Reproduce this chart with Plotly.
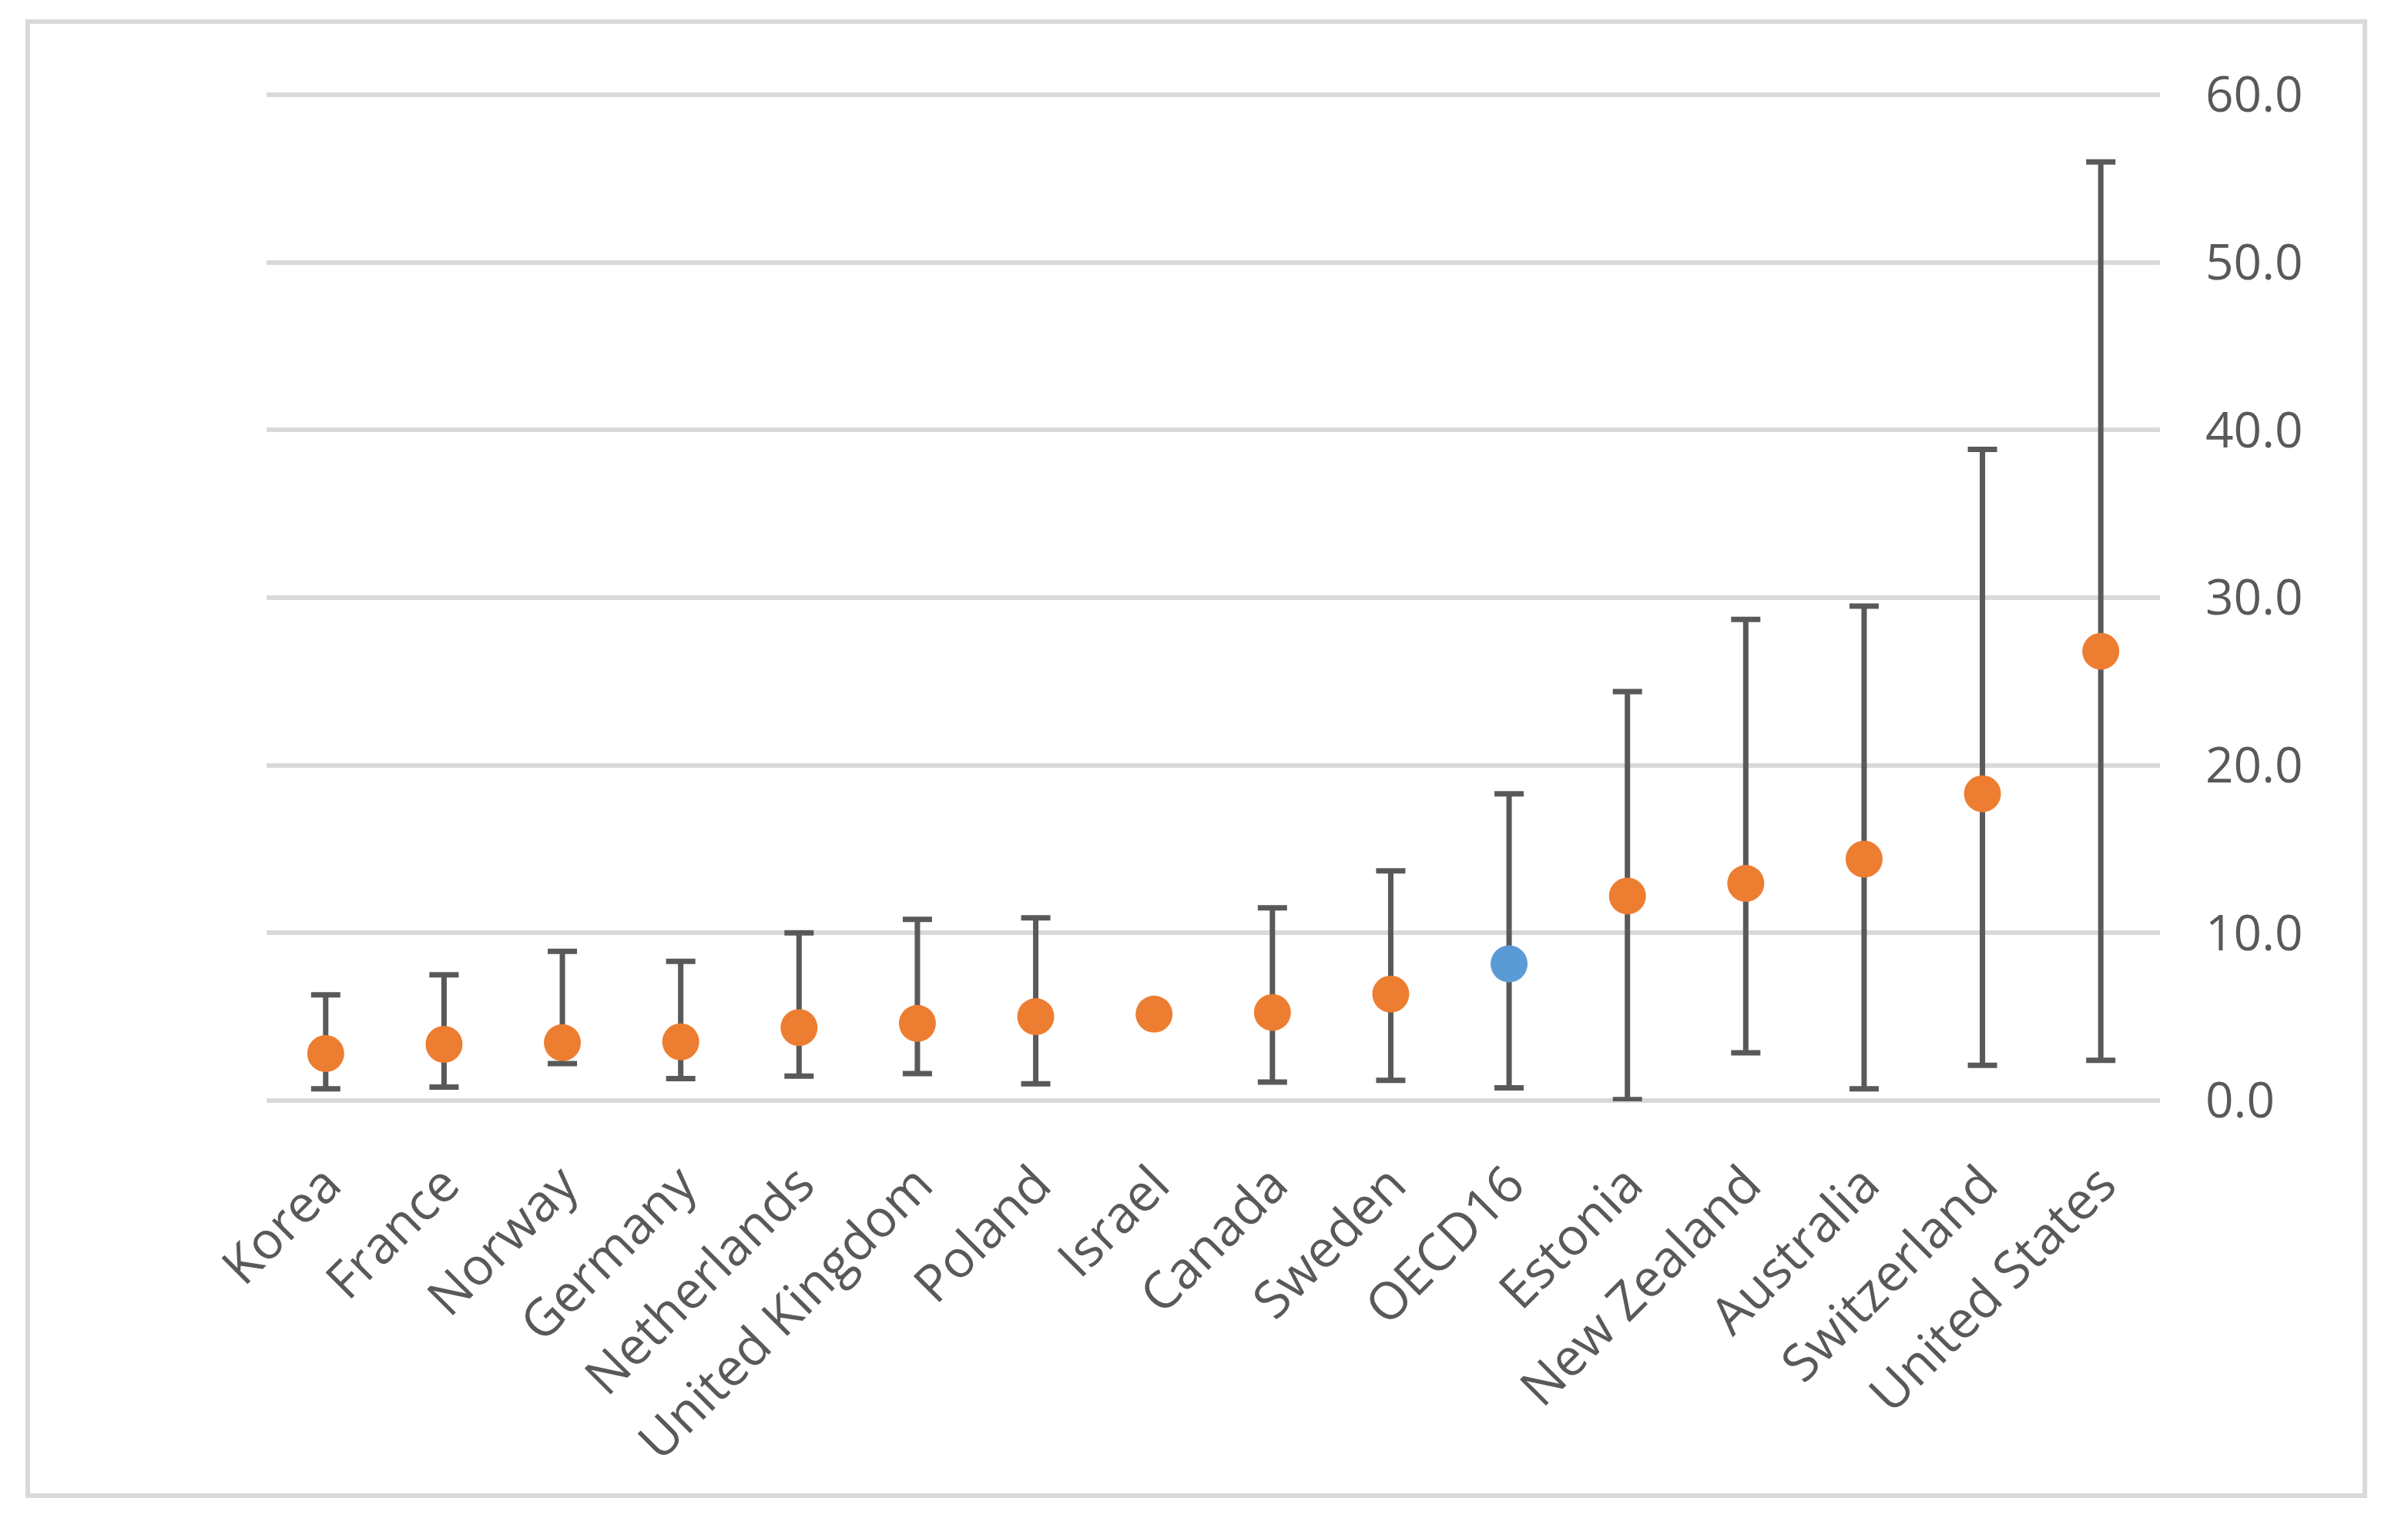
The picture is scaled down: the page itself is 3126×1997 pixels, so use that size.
import plotly.graph_objects as go

categories = ["Korea", "France", "Norway", "Germany", "Netherlands", "United Kingdom",
              "Poland", "Israel", "Canada", "Sweden", "OECD16", "Estonia",
              "New Zealand", "Australia", "Switzerland", "United States"]
values = [2.8, 3.35, 3.45, 3.5, 4.35, 4.6, 5.0, 5.15, 5.25, 6.35, 8.15, 12.2,
          12.95, 14.4, 18.3, 26.8]
upper = [6.3, 7.5, 8.9, 8.3, 10.0, 10.8, 10.9, None, 11.5, 13.7, 18.3, 24.4,
         28.7, 29.5, 38.85, 56.0]
lower = [0.7, 0.8, 2.2, 1.3, 1.45, 1.6, 1.0, None, 1.1, 1.2, 0.75, 0.05,
         2.85, 0.7, 2.1, 2.4]
highlight = "OECD16"
y_ticks = [0, 10, 20, 30, 40, 50, 60]

ORANGE = "#ED7D31"
BLUE = "#5B9BD5"
DARK = "#595959"
GRID = "#D9D9D9"

plus = [(u - v) if u is not None else None for u, v in zip(upper, values)]
minus = [(v - l) if l is not None else None for l, v in zip(lower, values)]
colors = [BLUE if c == highlight else ORANGE for c in categories]

fig = go.Figure()
fig.add_trace(go.Scatter(
    x=categories, y=values, mode="markers",
    marker=dict(size=48, color=colors, line=dict(width=0)),
    error_y=dict(type="data", symmetric=False, array=plus, arrayminus=minus,
                 color=DARK, thickness=7, width=19),
    showlegend=False, hoverinfo="x+y",
))

L, R, T, B = 346, 322, 122, 567
W, H = 3126, 1997
pw, ph = W - L - R, H - T - B

fig.update_layout(
    width=W, height=H,
    margin=dict(l=L, r=R, t=T, b=B, pad=0),
    paper_bgcolor="white", plot_bgcolor="white",
    font=dict(family="Open Sans", size=63, color=DARK),
    xaxis=dict(type="category", range=[-0.5, len(categories) - 0.5],
               tickangle=-45, showgrid=False, zeroline=False, showline=False,
               ticks="", ticklabelstandoff=54,
               tickfont=dict(family="Open Sans", size=67, color=DARK)),
    yaxis=dict(side="right", range=[-0.05, 60.05], tickvals=y_ticks,
               tickformat=".1f", showgrid=True, gridcolor=GRID, gridwidth=6,
               zeroline=False, showline=False, ticks="", ticklabelstandoff=58,
               tickfont=dict(family="Open Sans", size=64, color=DARK)),
    shapes=[dict(type="rect", xref="paper", yref="paper",
                 x0=(36 - L) / pw, x1=(3070 - L) / pw,
                 y0=(T + ph - 1942) / ph, y1=(T + ph - 28) / ph,
                 line=dict(color=GRID, width=6), fillcolor="rgba(0,0,0,0)",
                 layer="below")],
)

fig.write_html("out.html", config={"displayModeBar": False},
               post_script="document.body.style.margin='0';document.body.style.overflow='hidden';")
